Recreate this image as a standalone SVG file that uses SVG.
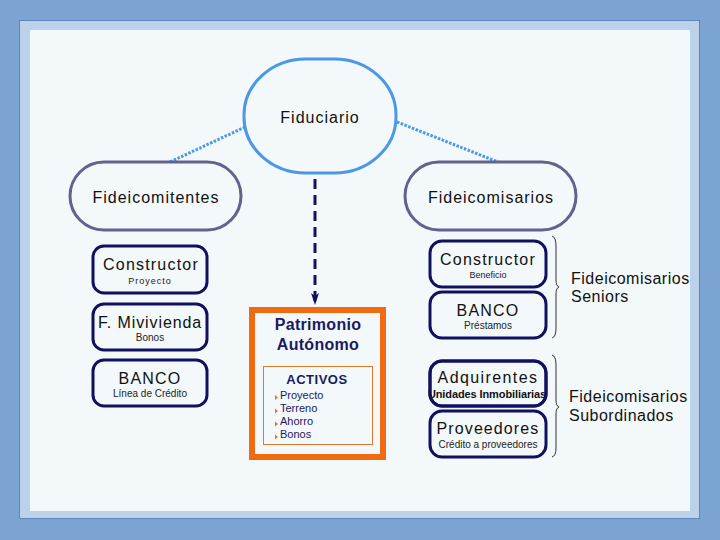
<svg xmlns="http://www.w3.org/2000/svg" width="720" height="540" viewBox="0 0 720 540">
<defs>
<style>
text{font-family:"Liberation Sans",Arial,sans-serif;text-anchor:middle;fill:#111}
.big{font-size:16px;letter-spacing:1px}
.sm{font-size:10px;fill:#222}
.box{fill:#F3F8FA;stroke:#10105E;stroke-width:3}
.pill{fill:#F3F8FA;stroke:#62628E;stroke-width:3}
.navy{fill:#1A1A62}
.lbl{font-size:16px;letter-spacing:0.5px;text-anchor:start}
.brace{fill:none;stroke:#333;stroke-width:1}
.li{font-size:11px;text-anchor:start;fill:#1A1A62}
.bul{fill:#E07830}
</style>
<marker id="ah" viewBox="0 0 12 8" refX="11" refY="4" markerWidth="12" markerHeight="8" markerUnits="userSpaceOnUse" orient="auto">
<path d="M0,0 L12,4 L0,8 L3,4 Z" fill="#10105E"/>
</marker>
</defs>
<rect width="720" height="540" fill="#7BA4D2"/>
<rect x="19.5" y="20.5" width="680" height="498" fill="#BCD2EA" stroke="#5F86BC" stroke-width="1"/>
<rect x="30" y="30" width="660" height="481" fill="#F3F8FA"/>

<g id="connectors">
<line x1="245" y1="127" x2="170" y2="162" stroke="#4A98E6" stroke-width="3" stroke-dasharray="2.5 1.5"/>
<line x1="397" y1="122" x2="498" y2="162" stroke="#4A98E6" stroke-width="3" stroke-dasharray="2.5 1.5"/>
<line x1="315" y1="179" x2="315" y2="304" stroke="#10105E" stroke-width="3" stroke-dasharray="10 6" marker-end="url(#ah)"/>
<path class="brace" d="M552,236 Q556,237 556,246 L556,280 Q556,286 559,287 Q556,288 556,294 L556,328 Q556,337 552,338"/>
<path class="brace" d="M552,355 Q556,356 556,365 L556,400 Q556,406 559,407 Q556,408 556,414 L556,448 Q556,456 552,457"/>
</g>

<g id="fiduciario">
<rect x="244" y="59" width="152" height="114" rx="62" ry="56" fill="#F3F8FA" stroke="#4A98E6" stroke-width="3"/>
<text class="big" x="320" y="123">Fiduciario</text>
</g>

<g id="fideicomitentes">
<rect class="pill" x="70" y="162" width="171" height="68" rx="34"/>
<text class="big" x="156" y="203">Fideicomitentes</text>
</g>

<g id="fideicomisarios">
<rect class="pill" x="405" y="162" width="171" height="68" rx="34"/>
<text class="big" x="491" y="203">Fideicomisarios</text>
</g>

<g id="constructor-l">
<rect class="box" x="93" y="246" width="114" height="47" rx="11"/>
<text class="big" x="151" y="270" style="letter-spacing:1.2px">Constructor</text>
<text class="sm" x="150" y="284" style="font-size:9px;letter-spacing:1px">Proyecto</text>
</g>

<g id="mivivienda">
<rect class="box" x="93" y="304" width="114" height="46" rx="11"/>
<text class="big" x="150" y="328" style="letter-spacing:0.9px">F. Mivivienda</text>
<text class="sm" x="150" y="341">Bonos</text>
</g>

<g id="banco-l">
<rect class="box" x="93" y="360" width="114" height="46" rx="11"/>
<text class="big" x="150" y="384" style="letter-spacing:1.2px">BANCO</text>
<text class="sm" x="150" y="397">Línea de Crédito</text>
</g>

<g id="patrimonio">
<rect x="252" y="310" width="131" height="147" fill="#F3F8FA" stroke="#F26A10" stroke-width="6"/>
<text class="big navy" x="318" y="330" style="font-weight:bold;letter-spacing:0.3px">Patrimonio</text>
<text class="big navy" x="318" y="350" style="font-weight:bold;letter-spacing:0.3px">Autónomo</text>
<rect x="263.5" y="366.5" width="109" height="78" fill="none" stroke="#E07830" stroke-width="1"/>
<text class="navy" x="317" y="384" style="font-size:13px;font-weight:bold;letter-spacing:0.5px">ACTIVOS</text>
<path class="bul" d="M275,395 L278,397.5 L275,400 Z"/>
<path class="bul" d="M275,408.5 L278,411 L275,413.5 Z"/>
<path class="bul" d="M275,421.5 L278,424 L275,426.5 Z"/>
<path class="bul" d="M275,434.5 L278,437 L275,439.5 Z"/>
<text class="li" x="280" y="399">Proyecto</text>
<text class="li" x="280" y="412">Terreno</text>
<text class="li" x="280" y="425">Ahorro</text>
<text class="li" x="280" y="438">Bonos</text>
</g>

<g id="constructor-r">
<rect class="box" x="430" y="241" width="116" height="46" rx="12"/>
<text class="big" x="488" y="265" style="letter-spacing:1.2px">Constructor</text>
<text class="sm" x="488" y="278" style="font-size:9px">Beneficio</text>
</g>

<g id="banco-r">
<rect class="box" x="430" y="292" width="116" height="46" rx="12"/>
<text class="big" x="488" y="316" style="letter-spacing:1.2px">BANCO</text>
<text class="sm" x="488" y="329">Préstamos</text>
</g>

<g id="adquirentes">
<rect class="box" x="430" y="361" width="116" height="45" rx="12"/>
<text x="487" y="398" style="font-size:11px;font-weight:bold;letter-spacing:-0.1px">Unidades Inmobiliarias</text>
<rect x="430" y="361" width="116" height="45" rx="12" fill="none" stroke="#10105E" stroke-width="3"/>
<text class="big" x="488" y="383" style="letter-spacing:1.4px">Adquirentes</text>
</g>

<g id="proveedores">
<rect class="box" x="430" y="411" width="116" height="46" rx="12"/>
<text class="big" x="488" y="434" style="letter-spacing:1.1px">Proveedores</text>
<text class="sm" x="488" y="448">Crédito a proveedores</text>
</g>

<g id="labels">
<text class="lbl" x="571" y="284">Fideicomisarios</text>
<text class="lbl" x="571" y="302">Seniors</text>
<text class="lbl" x="569" y="402">Fideicomisarios</text>
<text class="lbl" x="569" y="421">Subordinados</text>
</g>
</svg>
